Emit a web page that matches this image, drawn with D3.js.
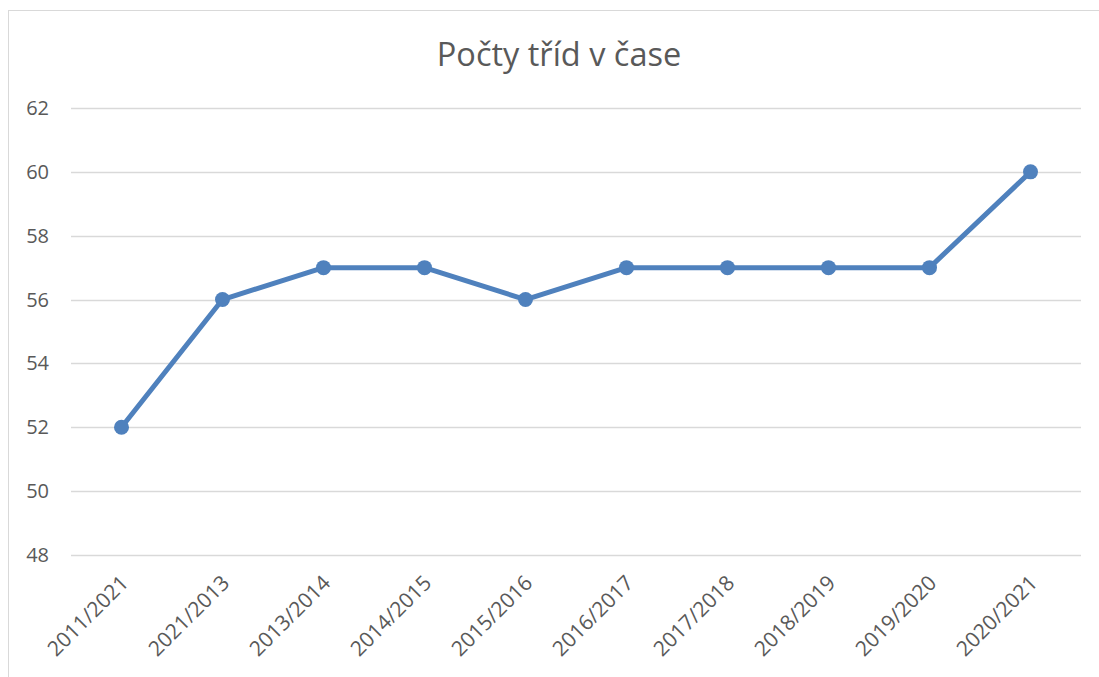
<!DOCTYPE html>
<html>
<head>
<meta charset="utf-8">
<script src="https://cdn.jsdelivr.net/npm/d3@7"></script>
<style>
  body { margin: 0; background: #fff; }
  text { font-family: "Open Sans", "Liberation Sans", sans-serif; fill: #595959; }
</style>
</head>
<body>
<div id="chart"></div>
<script>
var years = ["2011/2021", "2021/2013", "2013/2014", "2014/2015", "2015/2016",
             "2016/2017", "2017/2018", "2018/2019", "2019/2020", "2020/2021"];
var counts = [52, 56, 57, 57, 56, 57, 57, 57, 57, 60];
var yTicks = [48, 50, 52, 54, 56, 58, 60, 62];
var title = "Počty tříd v čase";

var width = 1099, height = 677;
var plotLeft = 71, plotRight = 1081, plotTop = 108, plotBottom = 555;

var svg = d3.select("#chart").append("svg")
    .attr("width", width)
    .attr("height", height);

// chart frame
svg.append("rect")
    .attr("x", 8.5).attr("y", 10.5)
    .attr("width", 1100).attr("height", 700)
    .attr("fill", "none")
    .attr("stroke", "#d9d9d9")
    .attr("stroke-width", 1);

var x = d3.scaleBand().domain(years).range([plotLeft, plotRight]);
var y = d3.scaleLinear().domain([48, 62]).range([plotBottom, plotTop]);

// grid lines
svg.append("g").selectAll("line")
    .data(yTicks)
    .enter().append("line")
    .attr("x1", plotLeft).attr("x2", plotRight)
    .attr("y1", function (d) { return Math.round(y(d)) + 0.5; })
    .attr("y2", function (d) { return Math.round(y(d)) + 0.5; })
    .attr("stroke", "#d9d9d9")
    .attr("stroke-width", 1.5);

// y labels
svg.append("g").selectAll("text")
    .data(yTicks)
    .enter().append("text")
    .attr("x", 49)
    .attr("y", function (d) { return y(d); })
    .attr("dy", "0.35em")
    .attr("text-anchor", "end")
    .style("font-size", "20px")
    .text(function (d) { return d; });

// x labels, rotated
svg.append("g").selectAll("text")
    .data(years)
    .enter().append("text")
    .attr("transform", function (d) {
        return "translate(" + (x(d) + x.bandwidth() / 2 + 3) + "," + 579 + ") rotate(-45)";
    })
    .attr("text-anchor", "end")
    .attr("dy", "0.35em")
    .style("font-size", "21px")
    .text(function (d) { return d; });

// line
var line = d3.line()
    .x(function (d, i) { return x(years[i]) + x.bandwidth() / 2; })
    .y(function (d) { return y(d); });

svg.append("path")
    .datum(counts)
    .attr("d", line)
    .attr("fill", "none")
    .attr("stroke", "#4f81bd")
    .attr("stroke-width", 5)
    .attr("stroke-linejoin", "round");

svg.append("g").selectAll("circle")
    .data(counts)
    .enter().append("circle")
    .attr("cx", function (d, i) { return x(years[i]) + x.bandwidth() / 2; })
    .attr("cy", function (d) { return y(d); })
    .attr("r", 7.5)
    .attr("fill", "#4f81bd");

// title
svg.append("text")
    .attr("x", (plotLeft + plotRight) / 2 - 17)
    .attr("y", 66)
    .attr("text-anchor", "middle")
    .style("font-size", "32.5px")
    .text(title);
</script>
</body>
</html>
